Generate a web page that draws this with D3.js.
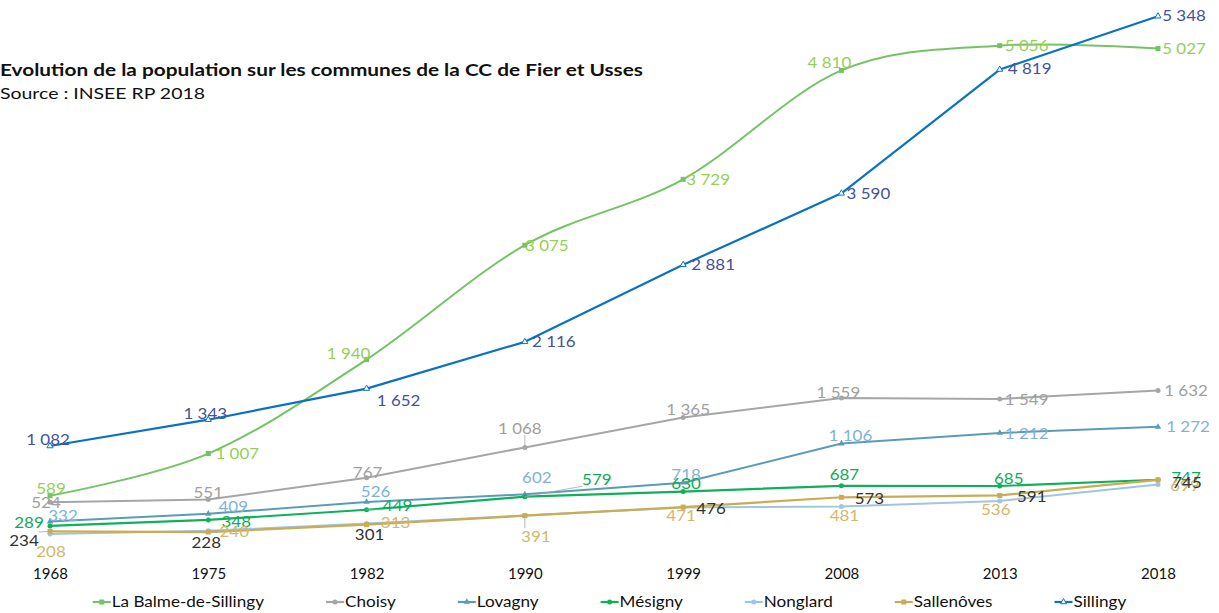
<!DOCTYPE html>
<html>
<head>
<meta charset="utf-8">
<style>
  body { margin: 0; background: #fff; }
  svg { display: block; font-family: Lato, "Noto Sans", sans-serif; }
</style>
</head>
<body>
<svg width="1219" height="613"></svg>
<script src="https://d3js.org/d3.v7.min.js"></script>
<script>

  // data
  var years = ["1968", "1975", "1982", "1990", "1999", "2008", "2013", "2018"];
  var communes = ["La Balme-de-Sillingy", "Choisy", "Lovagny", "Mésigny", "Nonglard", "Sallenôves", "Sillingy"];

  var balme = [589, 1007, 1940, 3075, 3729, 4810, 5056, 5027];
  var choisy = [524, 551, 767, 1068, 1365, 1559, 1549, 1632];
  var lovagny = [332, 409, 526, 602, 718, 1106, 1212, 1272];
  var mesigny = [289, 348, 449, 579, 630, 687, 685, 747];
  var nonglard = [208, 240, 313, 391, 471, 481, 536, 699];
  var sallenoves = [234, 228, 301, 390, 476, 573, 591, 745];
  var sillingy = [1082, 1343, 1652, 2116, 2881, 3590, 4819, 5348];

  var values = [balme, choisy, lovagny, mesigny, nonglard, sallenoves, sillingy];

  // styles
  var lineColors = ["#74c365", "#a6a6a6", "#5b9bb8", "#10b05a", "#9fc5e3", "#c8ad55", "#0b72c2"];
  var labelColors = ["#95cf55", "#a0a0a0", "#80b3d3", "#11a85a", "#d2b86c", "#333333", "#44529c"];
  var lineWidths = [2, 2, 2, 2.2, 2, 2.2, 2.2];
  var symbols = ["square", "circle", "triangle", "circle", "circle", "square", "opentri"];

  // label placement relative to the point: [dx, dy, leader line]
  var labelOffsets = [
    [[1, -7], [29, 0], [-18, -6], [22, 0], [25, 0], [-12, -8], [27, 0], [26, 0]],
    [[-4, 0], [0, -7], [1, -5], [-5, -19, 1], [5, -8], [-3, -6], [27, 0], [28, 0]],
    [[13, -6], [25, -7], [9, -11], [12, -17], [3, -8], [9, -8], [27, 0], [30, 0]],
    [[-21, -3], [28, 1], [31, -4, 1], [72, -17, 1], [3, -8], [3, -11], [9, -8], [28, -2]],
    [[1, 17], [26, 1, 1], [29, -1, 1], [11, 21, 1], [-2, 8], [3, 9], [-4, 8], [27, 1]],
    [[-26, 9, 1], [-2, 10], [3, 10], null, [28, 1], [28, 1], [32, 1], [29, 2]],
    [[-2, -7], [-3, -6], [32, 12], [29, 0], [30, 0], [27, 0], [30, -1], [26, -1]]
  ];

  var svg = d3.select("svg");

  var x = d3.scalePoint().domain(years).range([50, 1158]);
  var y = d3.scaleLinear().domain([0, 5400]).range([555, 11]);

  // title (stretched to the width of the wider original typeface)
  svg.append("text")
    .attr("x", 0).attr("y", 76)
    .attr("font-size", 17).attr("font-weight", "bold").attr("fill", "#111")
    .attr("textLength", 643).attr("lengthAdjust", "spacingAndGlyphs")
    .text("Evolution de la population sur les communes de la CC de Fier et Usses");
  svg.append("text")
    .attr("x", 0).attr("y", 99)
    .attr("font-size", 16).attr("fill", "#111")
    .attr("textLength", 205).attr("lengthAdjust", "spacingAndGlyphs")
    .text("Source : INSEE RP 2018");

  // x axis
  var xAxis = svg.append("g")
    .attr("transform", "translate(0,555)")
    .call(d3.axisBottom(x).tickSize(0).tickPadding(13));
  xAxis.select(".domain").remove();
  xAxis.selectAll("text").attr("font-size", 15).attr("font-family", "Lato, sans-serif").attr("fill", "#111");

  function marker(sel, i) {
    var s = symbols[i];
    if (s === "square") {
      sel.append("rect").attr("x", -2.5).attr("y", -2.5).attr("width", 5).attr("height", 5)
        .attr("fill", lineColors[i]);
    } else if (s === "circle") {
      sel.append("circle").attr("r", 2.5).attr("fill", lineColors[i]);
    } else if (s === "triangle") {
      sel.append("path").attr("d", d3.symbol(d3.symbolTriangle, 18)()).attr("fill", lineColors[i]);
    } else {
      sel.append("path").attr("d", d3.symbol(d3.symbolTriangle, 16)())
        .attr("fill", "#fff").attr("stroke", lineColors[i]).attr("stroke-width", 1);
    }
  }

  var line = d3.line()
    .x(function (d, j) { return x(years[j]); })
    .y(function (d) { return y(d); });

  var smooth = d3.line()
    .x(function (d, j) { return x(years[j]); })
    .y(function (d) { return y(d); })
    .curve(d3.curveCardinal.tension(0));

  var lines = svg.append("g");
  values.forEach(function (vals, i) {
    var g = lines.append("g");
    g.append("path")
      .attr("d", i === 0 ? smooth(vals) : line(vals))
      .attr("fill", "none")
      .attr("stroke", lineColors[i])
      .attr("stroke-width", lineWidths[i])
      .attr("stroke-linejoin", "round");
    vals.forEach(function (v, j) {
      g.append("g")
        .attr("transform", "translate(" + x(years[j]) + "," + y(v) + ")")
        .call(marker, i);
    });
  });

  // data labels
  var fmt = function (v) { return d3.format(",")(v).replace(",", " "); };
  var labels = svg.append("g").attr("font-size", 16);
  values.forEach(function (vals, i) {
    vals.forEach(function (v, j) {
      var off = labelOffsets[i][j];
      if (!off) return;
      var px = x(years[j]), py = y(v);
      var t = labels.append("text")
        .attr("x", px + off[0]).attr("y", py + off[1])
        .attr("dy", "0.35em")
        .attr("text-anchor", "middle")
        .attr("fill", labelColors[i])
        .text(fmt(v));
      var w = t.node().getComputedTextLength();
      t.attr("textLength", w * 1.06).attr("lengthAdjust", "spacingAndGlyphs");
      if (off[2]) {
        var b = t.node().getBBox();
        var ex = Math.max(b.x, Math.min(px, b.x + b.width));
        var ey = Math.max(b.y + 2, Math.min(py, b.y + b.height - 2));
        labels.insert("line", ":first-child")
          .attr("x1", px).attr("y1", py).attr("x2", ex).attr("y2", ey)
          .attr("stroke", "#a6a6a6").attr("stroke-width", 0.8);
      }
    });
  });

  // legend, centred, items flowing with a fixed gap
  var legend = svg.append("g").attr("font-size", 15);
  var cursor = 0;
  communes.forEach(function (name, i) {
    var item = legend.append("g").attr("transform", "translate(" + cursor + ",0)");
    item.append("line").attr("x1", 0).attr("x2", 18).attr("y1", 0).attr("y2", 0)
      .attr("stroke", lineColors[i]).attr("stroke-width", 2.2);
    item.append("g").attr("transform", "translate(9,0)").call(marker, i);
    var t = item.append("text").attr("x", 19).attr("dy", "0.35em").attr("fill", "#111").text(name);
    var w = t.node().getComputedTextLength() * 1.14;
    t.attr("textLength", w).attr("lengthAdjust", "spacingAndGlyphs");
    cursor += 19 + w + 62;
  });
  var total = cursor - 62;
  legend.attr("transform", "translate(" + ((1219 - total) / 2) + ",602)");

</script>
</body>
</html>
